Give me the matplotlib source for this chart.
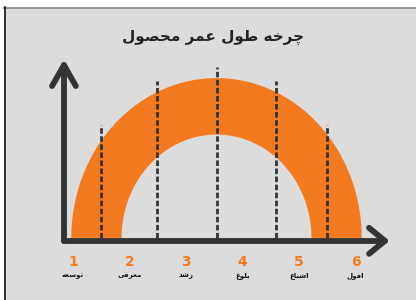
import numpy as np
import matplotlib
matplotlib.use("Agg")
import matplotlib.pyplot as plt
from matplotlib.patches import Rectangle

# data
title = "چرخه طول عمر محصول"
stages = [1, 2, 3, 4, 5, 6]
stage_names = ["توسعه", "معرفی", "رشد", "بلوغ", "اشباع", "افول"]
boundaries = [1.49, 2.49, 3.55, 4.59, 5.49]
boundary_heights = [2.0, 2.78, 3.03, 2.78, 2.0]

# arc shape (stage units)
arc_center = 3.54
outer_r = (2.57, 2.83)
inner_r = (1.68, 1.83)

BG = "#dcdcdc"
ORANGE = "#f47a20"
DARK = "#333333"

# minimal persian shaping -> presentation forms, visual order
FORMS = {
    "ا": ("\uFE8D", "\uFE8E", None, None),
    "ب": ("\uFE8F", "\uFE90", "\uFE91", "\uFE92"),
    "ت": ("\uFE95", "\uFE96", "\uFE97", "\uFE98"),
    "چ": ("\uFB7A", "\uFB7B", "\uFB7C", "\uFB7D"),
    "ح": ("\uFEA1", "\uFEA2", "\uFEA3", "\uFEA4"),
    "خ": ("\uFEA5", "\uFEA6", "\uFEA7", "\uFEA8"),
    "د": ("\uFEA9", "\uFEAA", None, None),
    "ر": ("\uFEAD", "\uFEAE", None, None),
    "س": ("\uFEB1", "\uFEB2", "\uFEB3", "\uFEB4"),
    "ش": ("\uFEB5", "\uFEB6", "\uFEB7", "\uFEB8"),
    "ص": ("\uFEB9", "\uFEBA", "\uFEBB", "\uFEBC"),
    "ط": ("\uFEC1", "\uFEC2", "\uFEC3", "\uFEC4"),
    "ع": ("\uFEC9", "\uFECA", "\uFECB", "\uFECC"),
    "غ": ("\uFECD", "\uFECE", "\uFECF", "\uFED0"),
    "ف": ("\uFED1", "\uFED2", "\uFED3", "\uFED4"),
    "ل": ("\uFEDD", "\uFEDE", "\uFEDF", "\uFEE0"),
    "م": ("\uFEE1", "\uFEE2", "\uFEE3", "\uFEE4"),
    "ه": ("\uFEE9", "\uFEEA", "\uFEEB", "\uFEEC"),
    "و": ("\uFEED", "\uFEEE", None, None),
    "ی": ("\uFBFC", "\uFBFD", "\uFBFE", "\uFBFF"),
}


def shape(text):
    out = []
    for i, ch in enumerate(text):
        if ch not in FORMS:
            out.append(ch)
            continue
        prev_j = i > 0 and text[i - 1] in FORMS and FORMS[text[i - 1]][2] is not None
        next_j = (i + 1 < len(text) and text[i + 1] in FORMS
                  and FORMS[ch][2] is not None)
        iso, fin, ini, med = FORMS[ch]
        if prev_j and next_j:
            out.append(med)
        elif prev_j:
            out.append(fin)
        elif next_j:
            out.append(ini)
        else:
            out.append(iso)
    return "".join(out)[::-1]


plt.rcParams["font.family"] = ["DejaVu Sans"]

W, H = 416, 300
fig = plt.figure(figsize=(W / 100, H / 100), dpi=100, facecolor="white")

# framed gray background
fig.patches.append(Rectangle((4 / W, 0), 1 - 4 / W, 1 - 7 / H,
                             transform=fig.transFigure, facecolor=BG,
                             edgecolor="none", zorder=-2))
fig.add_artist(plt.Line2D([4 / W, 1], [1 - 7.5 / H, 1 - 7.5 / H],
                          color="#8a8a8a", lw=1.2, transform=fig.transFigure))
fig.add_artist(plt.Line2D([4.5 / W, 4.5 / W], [0, 1 - 7 / H],
                          color="#111111", lw=1.2, transform=fig.transFigure))

ax = fig.add_axes([0, 0, 1, 1])
ax.set_facecolor("none")
unit = 56.5
x0, base = 16.5, 238
ax.set_xlim(-x0 / unit, (W - x0) / unit)
ax.set_ylim((base - H) / unit, base / unit)
ax.axis("off")

# orange arc band
t = np.linspace(0, np.pi, 200)
xo = arc_center + outer_r[0] * np.cos(t)
yo = outer_r[1] * np.sin(t)
xi = arc_center + inner_r[0] * np.cos(t[::-1])
yi = inner_r[1] * np.sin(t[::-1])
ax.fill(np.r_[xo, xi], np.r_[yo, yi], color=ORANGE, lw=0, zorder=1)

# dashed stage boundaries
for bx, bh in zip(boundaries, boundary_heights):
    ax.plot([bx, bx], [0, bh], color=DARK, lw=2.0, ls=(0, (2.0, 0.9)), zorder=2)

# axes with chevron arrows
ax_x, ax_y = 0.84, -0.05
x_end, y_end = 6.52, 3.06
kw = dict(color=DARK, lw=4.2, solid_capstyle="round", solid_joinstyle="round", zorder=3)
ax.plot([ax_x, x_end], [ax_y, ax_y], **kw)
ax.plot([ax_x, ax_x], [ax_y, y_end], **kw)
ax.plot([x_end - 0.28, x_end, x_end - 0.28], [ax_y + 0.23, ax_y, ax_y - 0.23], **kw)
ax.plot([ax_x - 0.21, ax_x, ax_x + 0.21], [y_end - 0.37, y_end, y_end - 0.37], **kw)

# stage numbers and names
for s, name in zip(stages, stage_names):
    ax.text(s, -0.42, str(s), color=ORANGE, fontsize=10, fontweight="bold",
            ha="center", va="center")
    ax.text(s, -0.67, shape(name), color="#111111", fontsize=5, fontweight="bold",
            ha="center", va="center")

fig.text(213 / W, 1 - 37 / H, shape(title), fontsize=11, fontweight="bold",
         color="#222222", ha="center", va="center")

fig.savefig("out.png", dpi=100, facecolor=fig.get_facecolor())
